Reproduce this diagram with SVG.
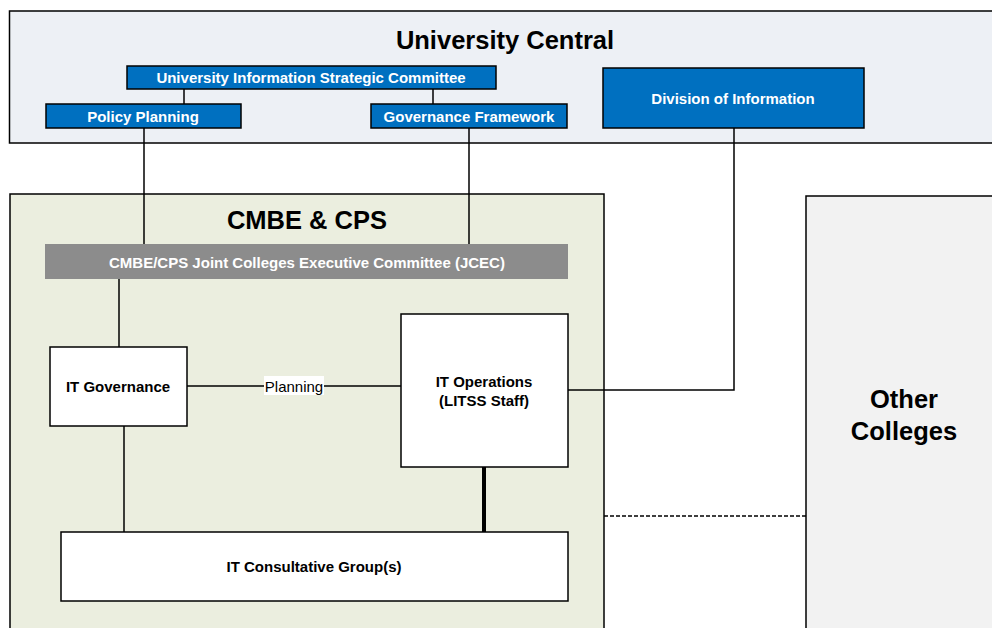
<svg xmlns="http://www.w3.org/2000/svg" width="992" height="628" viewBox="0 0 992 628">
  <style>
    text { font-family: "Liberation Sans", Arial, sans-serif; }
    .area { stroke: #000; stroke-width: 1.5; }
    .title { font-size: 25.5px; font-weight: bold; fill: #000; text-anchor: middle; }
    .blue rect { fill: #0070c0; stroke: #000; stroke-width: 1.5; }
    .blue text { font-size: 15px; font-weight: bold; fill: #fff; text-anchor: middle; }
    .box rect { fill: #fff; stroke: #000; stroke-width: 1.5; }
    .box text { font-size: 15px; font-weight: bold; fill: #000; text-anchor: middle; }
    .conn { stroke: #000; stroke-width: 1.5; fill: none; }
  </style>

  <rect width="992" height="628" fill="#fff"/>

  <!-- Containers -->
  <g id="university-central">
    <rect class="area" x="9.5" y="11" width="990" height="132" fill="#edf0f5"/>
    <text class="title" x="505" y="49">University Central</text>
  </g>
  <g id="cmbe-cps">
    <rect class="area" x="10" y="194" width="594" height="450" fill="#ebeedf"/>
    <text class="title" x="307" y="229">CMBE &amp; CPS</text>
  </g>
  <g id="other-colleges">
    <rect class="area" x="806" y="196" width="200" height="450" fill="#f2f2f2"/>
    <text class="title" x="904" y="408">Other</text>
    <text class="title" x="904" y="440">Colleges</text>
  </g>

  <!-- Connectors -->
  <g id="connectors">
    <line class="conn" x1="184" y1="89" x2="184" y2="104"/>
    <line class="conn" x1="433" y1="89" x2="433" y2="104"/>
    <line class="conn" x1="144" y1="128" x2="144" y2="244"/>
    <line class="conn" x1="469" y1="128" x2="469" y2="244"/>
    <polyline class="conn" points="734,128 734,390 568,390"/>
    <line class="conn" x1="119" y1="279" x2="119" y2="347"/>
    <line class="conn" x1="187" y1="386" x2="401" y2="386"/>
    <line class="conn" x1="124" y1="426" x2="124" y2="532"/>
    <line x1="484" y1="465" x2="484" y2="533" stroke="#000" stroke-width="4"/>
    <line class="conn" x1="604" y1="516" x2="806" y2="516" stroke-dasharray="4,2"/>
    <rect x="264" y="376" width="60" height="19" fill="#fff"/>
    <text x="294" y="391.5" font-size="15" text-anchor="middle" fill="#000">Planning</text>
  </g>

  <!-- University Central nodes -->
  <g id="uisc" class="blue">
    <rect x="127" y="66" width="369" height="23"/>
    <text x="311" y="82.5">University Information Strategic Committee</text>
  </g>
  <g id="policy-planning" class="blue">
    <rect x="46" y="104" width="195" height="24"/>
    <text x="143" y="121.5">Policy Planning</text>
  </g>
  <g id="division-of-information" class="blue">
    <rect x="603" y="68" width="261" height="60"/>
    <text x="733" y="103.5">Division of Information</text>
  </g>
  <g id="governance-framework" class="blue">
    <rect x="371" y="104" width="196" height="24"/>
    <text x="469" y="121.5">Governance Framework</text>
  </g>

  <!-- College nodes -->
  <g id="jcec">
    <rect x="45" y="244" width="523" height="35" fill="#8c8c8c"/>
    <text x="307" y="267.5" font-size="15" font-weight="bold" fill="#fff" text-anchor="middle">CMBE/CPS Joint Colleges Executive Committee (JCEC)</text>
  </g>
  <g id="it-governance" class="box">
    <rect x="50" y="347" width="137" height="79"/>
    <text x="118" y="391.5">IT Governance</text>
  </g>
  <g id="it-operations" class="box">
    <rect x="401" y="314" width="167" height="153"/>
    <text x="484" y="386.5">IT Operations</text>
    <text x="484" y="405.5">(LITSS Staff)</text>
  </g>
  <g id="it-consultative" class="box">
    <rect x="61" y="532" width="507" height="69"/>
    <text x="314" y="571.5">IT Consultative Group(s)</text>
  </g>
</svg>
